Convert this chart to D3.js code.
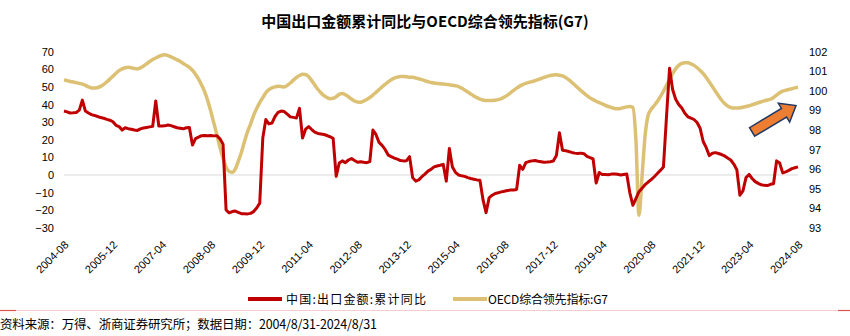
<!DOCTYPE html>
<html><head><meta charset="utf-8">
<script src="https://cdn.jsdelivr.net/npm/d3@7"></script>
<style>
html,body{margin:0;padding:0;background:#fff;}
svg{display:block;}
text{font-family:"Liberation Sans",Arial,sans-serif;}
.cjk{font-family:"Noto Sans CJK SC",sans-serif;}
</style></head>
<body>
<svg id="chart" width="850" height="336"></svg>
<script>
// ---------------- DATA ----------------
const startYear = 2004, startMonth = 8, monthCount = 241;
const tickLabels = ["2004-08","2005-12","2007-04","2008-08","2009-12","2011-04","2012-08","2013-12",
  "2015-04","2016-08","2017-12","2019-04","2020-08","2021-12","2023-04","2024-08"];
const leftTicks = [-30,-20,-10,0,10,20,30,40,50,60,70];
const rightTicks = [93,94,95,96,97,98,99,100,101,102];

// 中国:出口金额:累计同比 (%), monthly 2004-08 .. 2024-08
const exportYoY = [
  36.3, 35.8, 35.2, 35.3, 35.5,
  36.8, 42.5, 36.3, 35.2, 34.3, 33.8, 33.2, 32.6, 32.2, 31.6, 31.1, 30.2,
  28.2, 27.5, 25.5, 26.8, 26.3, 26.0, 25.5, 25.3, 26.2, 26.7, 27.0, 27.3,
  27.6, 42.0, 27.8, 27.8, 27.9, 28.4, 28.0, 27.4, 26.8, 26.5, 26.2, 26.8,
  26.9, 17.0, 20.6, 21.5, 22.3, 22.4, 22.3, 22.4, 22.2, 22.3, 20.5, 17.5,
  -19.9, -21.5, -20.8, -20.5, -21.3, -22.0, -22.0, -22.1, -21.8, -20.8, -18.8, -16.0,
  21.0, 31.5, 29.0, 29.5, 33.2, 35.5, 36.3, 36.0, 34.5, 33.0, 32.7, 32.3,
  37.8, 21.0, 26.0, 27.5, 25.8, 24.3, 23.6, 23.3, 23.0, 22.4, 21.7, 20.8,
  -0.8, 6.8, 8.0, 7.0, 8.5, 9.3, 8.2, 7.2, 7.5, 7.2, 7.0, 7.6,
  25.5, 23.0, 18.5, 16.8, 14.5, 11.3, 10.4, 9.6, 9.0, 8.2, 8.0, 8.1,
  10.4, -1.5, -3.5, -2.8, -1.0, 0.5, 2.2, 3.2, 4.6, 5.1, 5.5, 6.0,
  -3.5, 15.0, 4.5, 1.5, 0.0, -0.5, -0.8, -1.5, -2.0, -2.4, -2.8, -3.0,
  -14.0, -21.4, -13.0, -11.5, -10.5, -10.1, -9.6, -9.2, -8.8, -8.6, -8.5, -8.2,
  5.5, 3.2, 7.0, 7.6, 8.0, 8.2, 7.8, 7.5, 7.2, 7.3, 7.5, 7.9,
  11.0, 24.0, 14.0, 13.8, 13.3, 12.8, 12.4, 12.2, 12.4, 12.1, 10.6, 9.9,
  9.1, -4.6, 1.4, 0.2, 0.2, 0.1, 0.5, 0.6, 0.4, 0.0, 0.3, 0.5,
  -10.0, -17.2, -13.4, -9.5, -7.5, -5.5, -4.0, -2.6, -1.0, 0.8, 2.6, 4.5,
  33.0, 60.6, 48.5, 43.0, 40.0, 38.0, 35.0, 33.0, 32.3, 31.5, 29.8, 26.5,
  19.0, 15.5, 11.0, 12.3, 12.7, 12.2, 11.6, 10.8, 9.6, 8.5, 6.2, 3.0,
  -11.5, -9.0, -1.5, 0.3, -2.0, -3.8, -4.8, -5.6, -5.9, -6.0, -5.3, -5.0,
  8.0, 6.8, 1.2, 1.8, 2.6, 3.6, 4.1, 4.6
];

// OECD综合领先指标:G7, monthly 2004-08 .. 2024-08
const oecdCLI = [
  100.55, 100.52, 100.48, 100.45, 100.42,
  100.38, 100.34, 100.28, 100.20, 100.15, 100.14, 100.17, 100.23, 100.33, 100.46, 100.60, 100.75,
  100.90, 101.03, 101.12, 101.18, 101.20, 101.18, 101.14, 101.12, 101.17, 101.27, 101.38, 101.50,
  101.60, 101.68, 101.76, 101.82, 101.84, 101.80, 101.74, 101.66, 101.58, 101.50, 101.40, 101.30,
  101.20, 101.05, 100.85, 100.60, 100.30, 99.95, 99.50, 98.95, 98.35, 97.75, 97.10, 96.55,
  96.10, 95.88, 95.84, 96.00, 96.40, 96.85, 97.40, 97.90, 98.30, 98.75, 99.10, 99.40,
  99.65, 99.90, 100.06, 100.15, 100.20, 100.23, 100.22, 100.20, 100.28, 100.40, 100.55, 100.68,
  100.78, 100.85, 100.84, 100.72, 100.52, 100.30, 100.08, 99.90, 99.75, 99.66, 99.60, 99.62,
  99.70, 99.82, 99.86, 99.80, 99.70, 99.58, 99.48, 99.43, 99.42, 99.48, 99.56, 99.66,
  99.78, 99.92, 100.06, 100.20, 100.33, 100.46, 100.57, 100.65, 100.70, 100.73, 100.73, 100.72,
  100.70, 100.69, 100.66, 100.62, 100.57, 100.52, 100.47, 100.43, 100.40, 100.38, 100.36, 100.35,
  100.33, 100.31, 100.29, 100.26, 100.22, 100.14, 100.04, 99.94, 99.84, 99.74, 99.65, 99.58,
  99.53, 99.50, 99.50, 99.50, 99.52, 99.55, 99.60, 99.68, 99.78, 99.90, 100.02, 100.14,
  100.24, 100.32, 100.38, 100.43, 100.47, 100.52, 100.57, 100.63, 100.69, 100.74, 100.78, 100.81,
  100.82, 100.80, 100.76, 100.68, 100.57, 100.44, 100.30, 100.16, 100.02, 99.88, 99.75, 99.64,
  99.55, 99.47, 99.40, 99.33, 99.26, 99.20, 99.15, 99.10, 99.08, 99.10, 99.14, 99.18,
  99.20, 99.15, 97.50, 93.64, 95.60, 97.70, 98.75, 99.05, 99.25, 99.45, 99.70, 99.98,
  100.28, 100.58, 100.88, 101.12, 101.30, 101.40, 101.44, 101.43, 101.38, 101.30, 101.18, 101.04,
  100.88, 100.68, 100.45, 100.22, 99.98, 99.75, 99.53, 99.35, 99.22, 99.15, 99.12, 99.12,
  99.13, 99.16, 99.20, 99.24, 99.29, 99.34, 99.39, 99.44, 99.49, 99.53, 99.57, 99.66,
  99.78, 99.90, 99.98, 100.03, 100.07, 100.11, 100.15, 100.18
];

const seriesNames = ["中国:出口金额:累计同比", "OECD综合领先指标:G7"];
const titleText = "中国出口金额累计同比与OECD综合领先指标(G7)";
const sourceText = "资料来源：万得、浙商证券研究所；数据日期：2004/8/31-2024/8/31";

// ---------------- CHART ----------------
const months = [];
for (let k = 0; k < monthCount; k++) {
  const m = startMonth - 1 + k;
  const y = startYear + Math.floor(m / 12), mm = (m % 12) + 1;
  months.push(y + "-" + String(mm).padStart(2, "0"));
}

const svg = d3.select("#chart");
const plot = {left: 64, right: 798, top: 51.7, bottom: 227.8};
const RED = "#C00000", GOLD = "#DCC174";

const x = d3.scalePoint().domain(months).range([plot.left, plot.right]);
const yL = d3.scaleLinear().domain([-30, 70]).range([plot.bottom, plot.top]);
const yR = d3.scaleLinear().domain([93, 102]).range([plot.bottom, plot.top]);

// title
svg.append("text").attr("class", "cjk")
  .attr("x", 425).attr("y", 27).attr("text-anchor", "middle")
  .attr("font-size", 15).attr("font-weight", "bold").attr("fill", "#000")
  .text(titleText);

// zero line
svg.append("line")
  .attr("x1", plot.left).attr("x2", plot.right)
  .attr("y1", yL(0)).attr("y2", yL(0))
  .attr("stroke", "#d9d9d9").attr("stroke-width", 1);

// left axis
const axL = svg.append("g").attr("transform", `translate(${plot.left},0)`)
  .call(d3.axisLeft(yL).tickValues(leftTicks).tickSize(0).tickPadding(10));
axL.select(".domain").remove();
axL.selectAll("text").attr("font-size", 11).attr("fill", "#000")
  .attr("font-family", "Liberation Sans, Arial, sans-serif");

// right axis
const axR = svg.append("g").attr("transform", `translate(${plot.right},0)`)
  .call(d3.axisRight(yR).tickValues(rightTicks).tickSize(0).tickPadding(11));
axR.select(".domain").remove();
axR.selectAll("text").attr("font-size", 11).attr("fill", "#000")
  .attr("font-family", "Liberation Sans, Arial, sans-serif");

// bottom axis labels (rotated)
const axB = svg.append("g").attr("transform", `translate(0,${plot.bottom})`)
  .call(d3.axisBottom(x).tickValues(tickLabels).tickSize(0).tickPadding(0));
axB.select(".domain").remove();
axB.selectAll("text")
  .attr("font-size", 11).attr("fill", "#000")
  .attr("font-family", "Liberation Sans, Arial, sans-serif")
  .attr("text-anchor", "end")
  .attr("dy", "0.35em")
  .attr("transform", "translate(2,15) rotate(-45)");

// lines
const lineL = d3.line().x((d, k) => x(months[k])).y(d => yL(d));
const lineR = d3.line().x((d, k) => x(months[k])).y(d => yR(d)).curve(d3.curveMonotoneX);

svg.append("path").datum(oecdCLI).attr("d", lineR)
  .attr("fill", "none").attr("stroke", GOLD).attr("stroke-width", 3.5)
  .attr("stroke-linejoin", "round");
svg.append("path").datum(exportYoY).attr("d", lineL)
  .attr("fill", "none").attr("stroke", RED).attr("stroke-width", 3)
  .attr("stroke-linejoin", "round");

// arrow annotation (rising trend)
(function () {
  const x0 = x(months[225]), y0 = yR(97.9);
  const x1 = x(months[240]) - 2, y1 = yR(99.25);
  const dx = x1 - x0, dy = y1 - y0, L = Math.hypot(dx, dy);
  const ux = dx / L, uy = dy / L, nx = -uy, ny = ux;
  const bw = 5, hw = 11, hl = 14;
  const bx = x1 - ux * hl, by = y1 - uy * hl;
  const pts = [
    [x0 + nx * bw, y0 + ny * bw], [bx + nx * bw, by + ny * bw], [bx + nx * hw, by + ny * hw],
    [x1, y1], [bx - nx * hw, by - ny * hw], [bx - nx * bw, by - ny * bw], [x0 - nx * bw, y0 - ny * bw]
  ];
  svg.append("polygon").attr("points", pts.map(p => p.join(",")).join(" "))
    .attr("fill", "#ED7D31").attr("stroke", "#203864").attr("stroke-width", 1.5)
    .attr("stroke-linejoin", "miter");
})();

// legend
const legend = [
  {name: seriesNames[0], color: RED, lx: 248, tx: 286, tw: 140},
  {name: seriesNames[1], color: GOLD, lx: 453, tx: 488, tw: 120}
];
legend.forEach(l => {
  svg.append("line").attr("x1", l.lx).attr("x2", l.lx + 34).attr("y1", 299).attr("y2", 299)
    .attr("stroke", l.color).attr("stroke-width", 4);
  svg.append("text").attr("class", "cjk").attr("x", l.tx).attr("y", 303.5)
    .attr("font-size", 12).attr("fill", "#000")
    .attr("textLength", l.tw).attr("lengthAdjust", "spacing")
    .text(l.name);
});

// separator line
svg.append("line").attr("x1", 0).attr("x2", 850).attr("y1", 310.5).attr("y2", 310.5)
  .attr("stroke", "#f4cccc").attr("stroke-width", 1);
svg.append("line").attr("x1", 0).attr("x2", 16).attr("y1", 310.5).attr("y2", 310.5)
  .attr("stroke", "#d9534f").attr("stroke-width", 1.2);
svg.append("line").attr("x1", 838).attr("x2", 850).attr("y1", 310.5).attr("y2", 310.5)
  .attr("stroke", "#d9534f").attr("stroke-width", 1.2);

// source
svg.append("text").attr("class", "cjk").attr("x", 0).attr("y", 329)
  .attr("font-size", 12.5).attr("fill", "#000")
  .attr("textLength", 377).attr("lengthAdjust", "spacing")
  .text(sourceText);
</script>
</body></html>
